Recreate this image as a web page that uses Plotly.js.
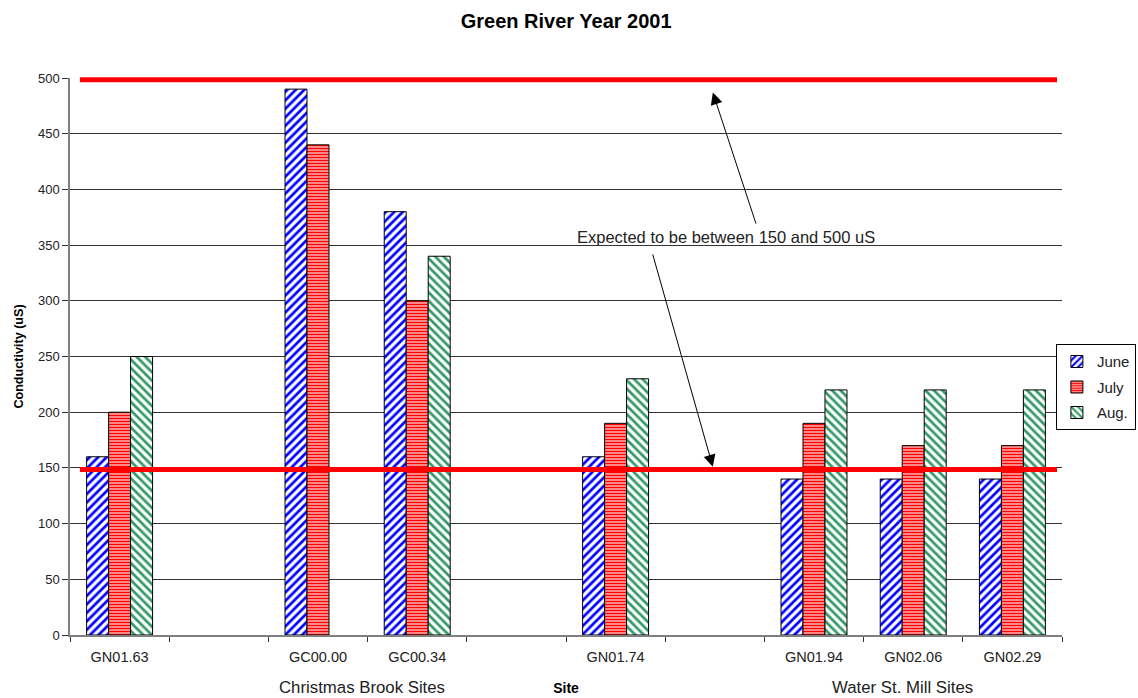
<!DOCTYPE html>
<html>
<head>
<meta charset="utf-8">
<script src="https://cdn.plot.ly/plotly-3.0.1.min.js"></script>
<style>
  html, body { margin: 0; padding: 0; background: #fff; }
  #chart { width: 1138px; height: 698px; }
</style>
</head>
<body>
<div id="chart"></div>
<script>
// Sites along the x axis; the blank slots separate the site groups.
const sites = ['GN01.63', ' ', 'GC00.00', 'GC00.34', '  ', 'GN01.74', '   ', 'GN01.94', 'GN02.06', 'GN02.29'];

// Conductivity (uS) per month
const june = [160, null, 490, 380, null, 160, null, 140, 140, 140];
const july = [200, null, 440, 300, null, 190, null, 190, 170, 170];
const aug  = [250, null, null, 340, null, 230, null, 220, 220, 220];

// Expected conductivity range (uS)
const lowerLimit = 150;
const upperLimit = 500;

const yMin = 0;
const yMax = 500;
const yTicks = [0, 50, 100, 150, 200, 250, 300, 350, 400, 450, 500];

const font = 'Liberation Sans, Arial, sans-serif';

function barTrace(name, values, color, shape, size, solidity) {
  return {
    type: 'bar',
    name: name,
    legendgroup: name,
    x: sites,
    y: values,
    marker: {
      color: '#ffffff',
      line: { color: '#000000', width: 1 },
      pattern: {
        shape: shape, fgcolor: color, bgcolor: '#ffffff', fgopacity: 1,
        size: size, solidity: solidity, fillmode: 'overlay'
      }
    },
    hoverinfo: 'x+y+name'
  };
}

const data = [
  barTrace('June', june, '#0000ff', '/', 6, 0.45),
  barTrace('July', july, '#ff0000', '-', 3, 0.65),
  barTrace('Aug.', aug, '#339966', '\\', 6, 0.45)
];

// Horizontal limit lines, placed in paper units from the y range so they are not clipped at the top edge
function limitLine(v) {
  const yp = (v - yMin) / (yMax - yMin);
  return {
    type: 'line', layer: 'above',
    xref: 'x', yref: 'paper',
    x0: -0.4, x1: 9.45, y0: yp - 0.003, y1: yp - 0.003,
    line: { color: '#ff0000', width: 5 }
  };
}

const layout = {
  width: 1138,
  height: 698,
  paper_bgcolor: '#ffffff',
  plot_bgcolor: '#ffffff',
  margin: { l: 70, r: 76, t: 78, b: 63, autoexpand: false },
  font: { family: font, size: 13, color: '#222' },
  title: {
    text: '<b>Green River Year 2001</b>',
    font: { family: font, size: 20, color: '#000' },
    x: 0.4975, xanchor: 'center', y: 0.970, yanchor: 'middle'
  },
  barmode: 'group',
  bargap: 0.335,
  bargroupgap: 0,
  showlegend: true,
  legend: {
    x: 1.0745, xanchor: 'right',
    y: 0.522, yanchor: 'top',
    bordercolor: '#000', borderwidth: 1,
    bgcolor: '#ffffff',
    font: { family: font, size: 15, color: '#222' },
    itemwidth: 30,
    traceorder: 'grouped',
    tracegroupgap: 3
  },
  xaxis: {
    type: 'category',
    categoryorder: 'array',
    categoryarray: sites,
    tickson: 'boundaries',
    ticks: 'outside',
    ticklen: 5,
    tickcolor: '#333',
    ticklabelstandoff: 8,
    showline: true,
    linecolor: '#808080',
    linewidth: 1.5,
    showgrid: false,
    tickfont: { family: font, size: 14.5, color: '#222' },
    title: { text: '<b>Site</b>', font: { family: font, size: 14, color: '#000' }, standoff: 19 },
    fixedrange: true
  },
  yaxis: {
    range: [yMin, yMax],
    tickvals: yTicks,
    ticks: 'outside',
    ticklen: 6,
    tickcolor: '#333',
    showline: true,
    linecolor: '#808080',
    linewidth: 1.5,
    showgrid: true,
    gridcolor: '#333',
    gridwidth: 1,
    zeroline: false,
    tickfont: { family: font, size: 13, color: '#222' },
    title: { text: '<b>Conductivity (uS)</b>', font: { family: font, size: 12.6, color: '#000' }, standoff: 12 },
    fixedrange: true
  },
  shapes: [limitLine(lowerLimit), limitLine(upperLimit)],
  annotations: [
    {
      text: 'Expected to be between 150 and 500 uS',
      xref: 'paper', yref: 'paper',
      x: 0.661, y: 0.714, xanchor: 'center', yanchor: 'middle',
      showarrow: false,
      font: { family: font, size: 16.5, color: '#222' }
    },
    {
      text: '', xref: 'x', yref: 'y', axref: 'x', ayref: 'y',
      x: 5.98, y: upperLimit - 13,
      ax: 6.42, ay: 368,
      showarrow: true, arrowhead: 2, arrowsize: 2.4, arrowwidth: 1, arrowcolor: '#000'
    },
    {
      text: '', xref: 'x', yref: 'y', axref: 'x', ayref: 'y',
      x: 5.98, y: lowerLimit + 1,
      ax: 5.37, ay: 343,
      showarrow: true, arrowhead: 2, arrowsize: 2.4, arrowwidth: 1, arrowcolor: '#000'
    },
    {
      text: 'Christmas Brook Sites',
      xref: 'paper', yref: 'paper',
      x: 0.294, y: -0.095, xanchor: 'center', yanchor: 'middle',
      showarrow: false,
      font: { family: font, size: 16.8, color: '#222' }
    },
    {
      text: 'Water St. Mill Sites',
      xref: 'paper', yref: 'paper',
      x: 0.839, y: -0.095, xanchor: 'center', yanchor: 'middle',
      showarrow: false,
      font: { family: font, size: 16.8, color: '#222' }
    }
  ]
};

Plotly.newPlot('chart', data, layout, { displayModeBar: false });
</script>
</body>
</html>
